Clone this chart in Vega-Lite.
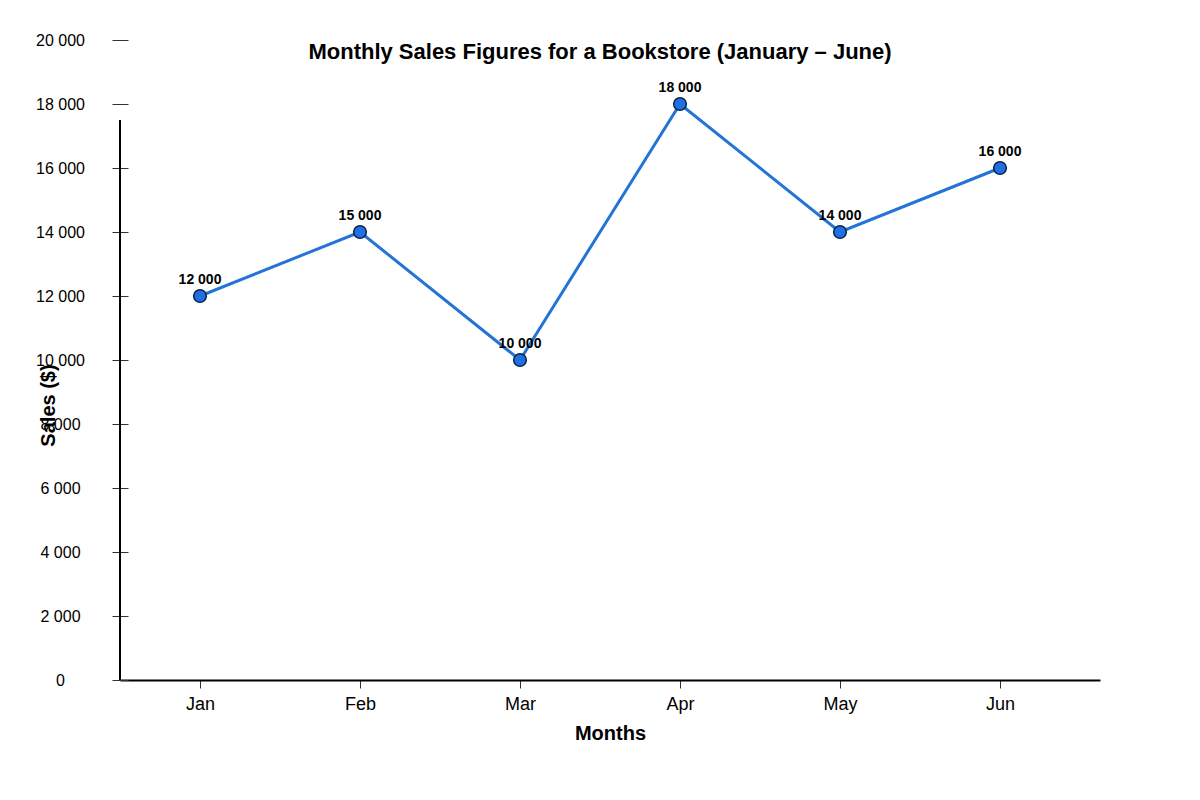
{
  "$schema": "https://vega.github.io/schema/vega-lite/v6.json",
  "width": 980,
  "height": 640,
  "autosize": "none",
  "padding": {"left": 120, "top": 40, "right": 100, "bottom": 120},
  "title": {
    "text": "Monthly Sales Figures for a Bookstore (January – June)",
    "fontSize": 22,
    "fontWeight": "bold",
    "color": "black",
    "anchor": "middle",
    "baseline": "alphabetic",
    "dx": -10,
    "offset": -49
  },
  "data": {
    "values": [
      {"month": "Jan", "m": 1, "sales": 12000, "label": "12 000"},
      {"month": "Feb", "m": 2, "sales": 14000, "label": "15 000"},
      {"month": "Mar", "m": 3, "sales": 10000, "label": "10 000"},
      {"month": "Apr", "m": 4, "sales": 18000, "label": "18 000"},
      {"month": "May", "m": 5, "sales": 14000, "label": "14 000"},
      {"month": "Jun", "m": 6, "sales": 16000, "label": "16 000"}
    ]
  },
  "encoding": {
    "x": {
      "field": "m",
      "type": "quantitative",
      "scale": {"domain": [0.5, 6.625], "nice": false, "zero": false},
      "axis": {
        "values": [1, 2, 3, 4, 5, 6],
        "labelExpr": "['Jan','Feb','Mar','Apr','May','Jun'][datum.value - 1]",
        "grid": false,
        "tickSize": 8,
        "tickColor": "#333333",
        "domainColor": "black",
        "domainWidth": 2,
        "labelFontSize": 18,
        "labelPadding": 7,
        "labelColor": "black",
        "labelFlush": false,
        "title": "Months",
        "titleFontSize": 20,
        "titleFontWeight": "bold",
        "titleColor": "black",
        "titlePadding": 10
      }
    },
    "y": {
      "field": "sales",
      "type": "quantitative",
      "scale": {"domain": [0, 20000], "nice": false},
      "axis": {
        "values": [0, 2000, 4000, 6000, 8000, 10000, 12000, 14000, 16000, 18000, 20000],
        "labelExpr": "replace(format(datum.value, ','), ',', ' ')",
        "grid": false,
        "domain": false,
        "offset": -8,
        "tickSize": 16,
        "tickColor": "#333333",
        "labelAlign": "center",
        "labelBaseline": "middle",
        "labelPadding": 52,
        "labelFontSize": 16,
        "labelColor": "black",
        "title": "Sales ($)",
        "titleFontSize": 20,
        "titleFontWeight": "bold",
        "titleColor": "black",
        "titleAngle": -90,
        "titleAlign": "center",
        "titleBaseline": "middle",
        "titleX": -80,
        "titleY": 365
      }
    }
  },
  "layer": [
    {
      "data": {"values": [{"x": 0.5, "y0": 0, "y1": 17500}]},
      "mark": {"type": "rule", "color": "black", "strokeWidth": 2},
      "encoding": {
        "x": {"field": "x", "type": "quantitative"},
        "y": {"field": "y0", "type": "quantitative"},
        "y2": {"field": "y1"}
      }
    },
    {
      "mark": {"type": "line", "color": "#2474d6", "strokeWidth": 3}
    },
    {
      "mark": {
        "type": "point",
        "filled": true,
        "size": 160,
        "fill": "#1f6fe5",
        "stroke": "#0d2447",
        "strokeWidth": 1.5,
        "opacity": 1
      }
    },
    {
      "mark": {
        "type": "text",
        "dy": -12,
        "baseline": "alphabetic",
        "fontSize": 14,
        "fontWeight": "bold",
        "color": "black"
      },
      "encoding": {"text": {"field": "label"}}
    }
  ],
  "config": {
    "view": {"stroke": null},
    "font": "Liberation Sans"
  }
}
